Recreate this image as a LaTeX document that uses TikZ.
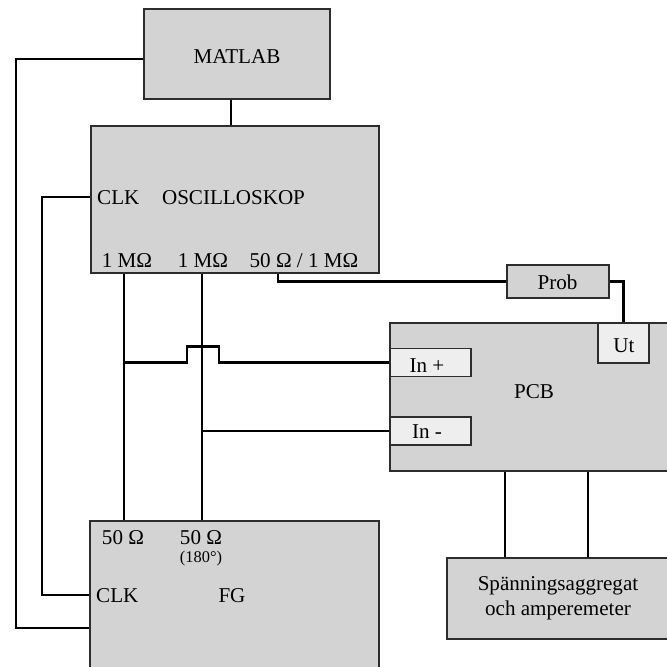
\documentclass[tikz,border=0pt]{standalone}
\usepackage{fontspec}
\setmainfont{Liberation Serif}
\usepackage{tikz}
\usetikzlibrary{positioning}
\usetikzlibrary{shapes,calc,arrows.meta}
\newlength\px
\setlength\px{0.03cm}
\definecolor{boxgray}{RGB}{211,211,211}
\definecolor{portgray}{RGB}{238,238,238}
\definecolor{edgegray}{RGB}{45,45,45}

\begin{document}
\begin{tikzpicture}[x=0.03cm,y=-0.03cm,
  box/.style={rectangle,draw=edgegray,line width=0.9pt,fill=boxgray,inner sep=0pt},
  port/.style={box,fill=portgray},
  lbl/.style={inner sep=0pt,font=\fontsize{18}{21}\selectfont},
  small lbl/.style={inner sep=0pt,font=\fontsize{14}{16}\selectfont},
  wire/.style={line width=2.1pt}]
\useasboundingbox (0,0) rectangle (667,666);
\clip (0,0) rectangle (667,666);
\node[box,minimum width=186\px,minimum height=90\px] at (237,54) (matlab) {};
\node[box,minimum width=288\px,minimum height=147\px] at (235,199.5) (osc) {};
\node[box,minimum width=102\px,minimum height=33\px] at (558,281.5) (prob) {};
\node[box,minimum width=310\px,minimum height=148\px] at (545,397) (pcb) {};
\node[port,minimum width=51\px,minimum height=40\px] at (623.5,343) (ut) {};
\node[port,minimum width=81\px,minimum height=28\px] at (430.5,362.5) (inp) {};
\node[port,minimum width=81\px,minimum height=28\px] at (430.5,431) (inm) {};
\node[box,minimum width=253\px,minimum height=81\px] at (573.5,598.5) (psu) {};
\node[box,minimum width=289\px,minimum height=179\px] at (234.5,610.5) (fg) {};

\node[lbl,anchor=base] at (237,63) (matlabtxt) {MATLAB};
\node[lbl,anchor=base west] at (97,204) (oscclk) {CLK};
\node[lbl,anchor=base] at (233.5,204) (osctxt) {OSCILLOSKOP};
\node[lbl,anchor=base] at (127,267) (chA) {1 MΩ};
\node[lbl,anchor=base] at (203,267) (chB) {1 MΩ};
\node[lbl,anchor=base] at (304,267) (chC) {50 Ω / 1 MΩ};
\node[lbl,anchor=base] at (557.5,289) (probtxt) {Prob};
\node[lbl,anchor=base] at (624,352) (uttxt) {Ut};
\node[lbl,anchor=base] at (427,372) (inptxt) {In +};
\node[lbl,anchor=base] at (427,438) (inmtxt) {In -};
\node[lbl,anchor=base] at (534,398) (pcbtxt) {PCB};
\node[lbl,align=center,font=\fontsize{18}{21}\selectfont] at (558,598) (psutxt) {Spänningsaggregat\\och amperemeter};
\node[lbl,anchor=base] at (123,544) (fgA) {50 Ω};
\node[lbl,anchor=base] at (201,544) (fgB) {50 Ω};
\node[small lbl,anchor=base] at (201,562) (fgBdeg) {(180°)};
\node[lbl,anchor=base west] at (96,602) (fgclk) {CLK};
\node[lbl,anchor=base] at (232,602) (fgtxt) {FG};

\coordinate (tapP) at (124,362.5);
\coordinate (tapM) at (202,431);
\draw[wire] (matlab.south -| 231,0) -- (osc.north -| 231,0);
\draw[wire] (matlab.west |- 0,59) -| (16,628) -- (fg.west |- 0,628);
\draw[wire] (osc.west |- 0,197) -| (42,595) -- (fg.west |- 0,595);
\draw[wire] (osc.south -| tapP) -- (fg.north -| tapP);
\draw[wire] (osc.south -| tapM) -- (fg.north -| tapM);
\draw[wire] (tapP) -- ++(63,0) -- ++(0,-16) -- ++(32,0) -- ++(0,16) -- (inp.west);
\draw[wire] (tapM) -- (inm.west);
\draw[wire] (osc.south -| 278,0) |- (prob.west);
\draw[wire] (prob.east) -| (ut.north);
\draw[wire] (pcb.south -| 505,0) -- (psu.north -| 505,0);
\draw[wire] (pcb.south -| 588,0) -- (psu.north -| 588,0);
\end{tikzpicture}
\end{document}
